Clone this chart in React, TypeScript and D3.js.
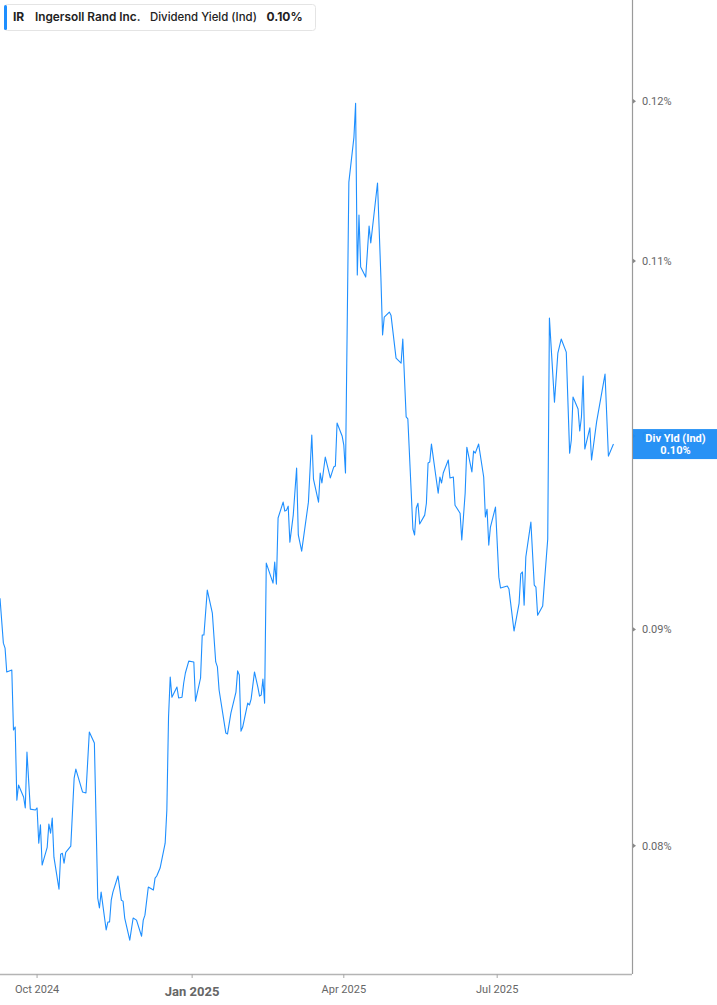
import React, { useEffect, useRef } from "react";
import * as d3 from "d3";

// trading days (Sep 2024 .. Sep 2025)
const dates = [
  "2024-09-09","2024-09-11","2024-09-12","2024-09-13","2024-09-16","2024-09-17","2024-09-18","2024-09-19","2024-09-20","2024-09-23","2024-09-24","2024-09-25","2024-09-27","2024-09-30",
  "2024-10-01","2024-10-02","2024-10-03","2024-10-04","2024-10-07","2024-10-08","2024-10-09","2024-10-10","2024-10-11","2024-10-14","2024-10-15","2024-10-16","2024-10-17","2024-10-18","2024-10-21","2024-10-23","2024-10-24","2024-10-28","2024-10-30",
  "2024-11-01","2024-11-04","2024-11-06","2024-11-07","2024-11-08","2024-11-11","2024-11-12","2024-11-13","2024-11-14","2024-11-15","2024-11-18","2024-11-20","2024-11-21","2024-11-22","2024-11-25","2024-11-27","2024-11-29",
  "2024-12-02","2024-12-03","2024-12-04","2024-12-06","2024-12-09","2024-12-10","2024-12-11","2024-12-13","2024-12-16","2024-12-17","2024-12-18","2024-12-19","2024-12-20","2024-12-23","2024-12-24","2024-12-26","2024-12-27","2024-12-28","2024-12-30",
  "2025-01-02","2025-01-03","2025-01-06","2025-01-07","2025-01-08","2025-01-10","2025-01-13","2025-01-15","2025-01-16","2025-01-17","2025-01-21","2025-01-22","2025-01-24","2025-01-27","2025-01-28","2025-01-29","2025-01-30","2025-01-31",
  "2025-02-03","2025-02-04","2025-02-05","2025-02-07","2025-02-09","2025-02-10","2025-02-11","2025-02-12","2025-02-13","2025-02-14","2025-02-18","2025-02-19","2025-02-20","2025-02-21","2025-02-24","2025-02-25","2025-02-26","2025-02-27","2025-02-28",
  "2025-03-02","2025-03-04","2025-03-05","2025-03-07","2025-03-11","2025-03-13","2025-03-14","2025-03-17","2025-03-18","2025-03-19","2025-03-21","2025-03-24","2025-03-26","2025-03-27","2025-03-28","2025-03-31",
  "2025-04-01","2025-04-02","2025-04-04","2025-04-07","2025-04-08","2025-04-09","2025-04-10","2025-04-11","2025-04-14","2025-04-16","2025-04-17","2025-04-21","2025-04-23","2025-04-24","2025-04-25","2025-04-28","2025-04-29",
  "2025-05-02","2025-05-05","2025-05-06","2025-05-08","2025-05-09","2025-05-12","2025-05-13","2025-05-14","2025-05-15","2025-05-16","2025-05-19","2025-05-20","2025-05-21","2025-05-22","2025-05-23","2025-05-27","2025-05-28","2025-05-29","2025-05-30",
  "2025-06-02","2025-06-03","2025-06-05","2025-06-06","2025-06-09","2025-06-10","2025-06-12","2025-06-13","2025-06-16","2025-06-17","2025-06-18","2025-06-20","2025-06-23","2025-06-24","2025-06-25","2025-06-26","2025-06-27","2025-06-30",
  "2025-07-02","2025-07-03","2025-07-07","2025-07-08","2025-07-11","2025-07-14","2025-07-15","2025-07-16","2025-07-17","2025-07-18","2025-07-21","2025-07-23","2025-07-24","2025-07-25","2025-07-28","2025-07-29","2025-07-31",
  "2025-08-01","2025-08-04","2025-08-06","2025-08-08","2025-08-11","2025-08-13","2025-08-14","2025-08-15","2025-08-18","2025-08-19","2025-08-20","2025-08-21","2025-08-22","2025-08-25","2025-08-26","2025-08-29",
  "2025-09-03","2025-09-05","2025-09-08",
];

// dividend yield in percent, same order as dates
const yields = [
  0.09154,0.08933,0.08909,0.08794,0.08803,0.08520,0.08534,0.08201,0.08269,0.08215,0.08166,0.08418,0.08161,0.08157,
  0.08166,0.08011,0.08091,0.07916,0.07993,0.08095,0.08055,0.08121,0.07950,0.07813,0.07963,0.07967,0.07924,0.07971,0.07998,0.08300,0.08341,0.08237,0.08233,
  0.08511,0.08460,0.07775,0.07733,0.07800,0.07641,0.07674,0.07674,0.07766,0.07800,0.07869,0.07766,0.07762,0.07691,0.07599,0.07691,0.07682,
  0.07615,0.07682,0.07703,0.07822,0.07809,0.07860,0.07869,0.07903,0.08011,0.08157,0.08581,0.08770,0.08674,0.08722,0.08670,0.08674,0.08741,0.08789,0.08846,
  0.08842,0.08655,0.08765,0.08973,0.08973,0.09195,0.09080,0.08842,0.08818,0.08708,0.08506,0.08502,0.08599,0.08698,0.08799,0.08779,0.08515,0.08534,
  0.08646,0.08637,0.08665,0.08794,0.08722,0.08679,0.08684,0.08760,0.08646,0.09331,0.09230,0.09336,0.09225,0.09563,0.09646,0.09599,0.09604,0.09625,0.09438,
  0.09578,0.09827,0.09475,0.09392,0.09646,0.10005,0.09768,0.09646,0.09800,0.09747,0.09886,0.09774,0.09832,0.09838,0.10071,0.10000,
  0.09950,0.09800,0.11483,0.11766,0.11987,0.10916,0.11279,0.10964,0.10904,0.11211,0.11108,0.11477,0.10904,0.10565,0.10669,0.10698,0.10680,
  0.10433,0.10405,0.10542,0.10104,0.10093,0.09506,0.09475,0.09615,0.09640,0.09532,0.09578,0.09640,0.09854,0.09859,0.09956,0.09693,0.09779,0.09747,0.09800,
  0.09870,0.09774,0.09779,0.09630,0.09588,0.09449,0.09693,0.09939,0.09806,0.09918,0.09907,0.09956,0.09779,0.09568,0.09609,0.09423,0.09516,0.09620,
  0.09260,0.09205,0.09215,0.09200,0.08992,0.09129,0.09276,0.09286,0.09120,0.09362,0.09542,0.09220,0.09210,0.09070,0.09115,0.09230,0.09454,
  0.10663,0.10186,0.10461,0.10542,0.10467,0.09907,0.09978,0.10214,0.10148,0.10027,0.10104,0.10332,0.09929,0.10044,0.09870,0.10077,
  0.10343,0.09891,0.09956,
];

const yTicks = [0.08, 0.09, 0.1, 0.11, 0.12];
const xTickDates = ["2024-10-01", "2025-01-01", "2025-04-01", "2025-07-01"];
const xTickLabels = ["Oct 2024", "Jan 2025", "Apr 2025", "Jul 2025"];
const xDomain = ["2024-09-09", "2025-09-19"];
const yDomain = [0.0746, 0.1268];

const ticker = "IR";
const company = "Ingersoll Rand Inc.";
const metric = "Dividend Yield (Ind)";
const badgeTitle = "Div Yld (Ind)";

const width = 717;
const height = 1005;
const plotRight = 632;
const plotBottom = 974;
const blue = "#1e8fff";

const parse = d3.timeParse("%Y-%m-%d");

export default function App() {
  const ref = useRef<SVGSVGElement | null>(null);

  useEffect(() => {
    if (!ref.current) return;
    const svg = d3.select(ref.current);
    svg.selectAll("*").remove();

    const data = dates.map((d, i) => ({ date: parse(d) as Date, value: yields[i] }));
    const last = data[data.length - 1];
    const fmt = (v: number) => `${v.toFixed(2)}%`;

    const x = d3
      .scaleTime()
      .domain(xDomain.map((d) => parse(d) as Date))
      .range([0, plotRight]);
    const y = d3.scaleLog().domain(yDomain).range([plotBottom, 0]);

    svg
      .append("defs")
      .append("clipPath")
      .attr("id", "plot-clip")
      .append("rect")
      .attr("x", 0)
      .attr("y", 0)
      .attr("width", plotRight)
      .attr("height", plotBottom);

    // line
    const line = d3
      .line<{ date: Date; value: number }>()
      .x((d) => x(d.date))
      .y((d) => y(d.value));
    svg
      .append("path")
      .datum(data)
      .attr("clip-path", "url(#plot-clip)")
      .attr("d", line)
      .attr("fill", "none")
      .attr("stroke", blue)
      .attr("stroke-width", 1.1)
      .attr("stroke-linejoin", "round");

    // bottom axis
    svg
      .append("line")
      .attr("x1", 0)
      .attr("x2", plotRight)
      .attr("y1", plotBottom + 0.5)
      .attr("y2", plotBottom + 0.5)
      .attr("stroke", "#b4b4b4")
      .attr("stroke-width", 1.5);

    const isYear = (i: number) => xTickLabels[i].startsWith("Jan");
    const xt = svg
      .append("g")
      .selectAll("g")
      .data(xTickDates)
      .enter()
      .append("g")
      .attr("transform", (d) => `translate(${x(parse(d) as Date)},0)`);
    xt.append("line")
      .attr("y1", plotBottom)
      .attr("y2", plotBottom + 4)
      .attr("stroke", "#a8a8a8");
    xt.append("text")
      .attr("text-anchor", "middle")
      .attr("y", (_, i) => (isYear(i) ? 995.5 : 993))
      .attr("font-family", "Roboto, sans-serif")
      .attr("font-size", (_, i) => (isYear(i) ? 13 : 11))
      .attr("font-weight", (_, i) => (isYear(i) ? 700 : 400))
      .attr("fill", "#666")
      .text((_, i) => xTickLabels[i]);

    // right axis
    svg
      .append("line")
      .attr("x1", plotRight + 0.5)
      .attr("x2", plotRight + 0.5)
      .attr("y1", 0)
      .attr("y2", plotBottom)
      .attr("stroke", "#9a9a9a")
      .attr("stroke-width", 1.2);

    const yt = svg
      .append("g")
      .selectAll("g")
      .data(yTicks)
      .enter()
      .append("g")
      .attr("transform", (d) => `translate(${plotRight},${y(d)})`);
    yt.append("path").attr("d", "M1,-2.2L4,0L1,2.2Z").attr("fill", "#888");
    yt.append("text")
      .attr("x", 10)
      .attr("dy", "0.35em")
      .attr("font-family", "Roboto, sans-serif")
      .attr("font-size", 11)
      .attr("fill", "#666")
      .text((d) => fmt(d));

    // last value badge (covers the 0.10% tick label, as in the original)
    const by = y(last.value);
    const badge = svg.append("g").attr("transform", `translate(${plotRight + 1},${by})`);
    badge
      .append("rect")
      .attr("x", 0)
      .attr("y", -15)
      .attr("width", width - plotRight - 1)
      .attr("height", 30)
      .attr("fill", "#1f8ef5")
      .attr("opacity", 0.96);
    badge
      .append("text")
      .attr("x", (width - plotRight) / 2)
      .attr("y", -2.5)
      .attr("text-anchor", "middle")
      .attr("font-family", "Roboto, sans-serif")
      .attr("font-size", 11)
      .attr("font-weight", 700)
      .attr("fill", "#fff")
      .text(badgeTitle);
    badge
      .append("text")
      .attr("x", (width - plotRight) / 2)
      .attr("y", 9.5)
      .attr("text-anchor", "middle")
      .attr("font-family", "Roboto, sans-serif")
      .attr("font-size", 11)
      .attr("font-weight", 700)
      .attr("fill", "#fff")
      .text(fmt(last.value));

    // legend
    const lg = svg.append("g");
    lg.append("rect")
      .attr("x", 4.5)
      .attr("y", 4.5)
      .attr("width", 311)
      .attr("height", 26)
      .attr("rx", 3)
      .attr("fill", "#fff")
      .attr("stroke", "#e4e4e4");
    lg.append("rect")
      .attr("x", 4)
      .attr("y", 5)
      .attr("width", 3)
      .attr("height", 25)
      .attr("rx", 1.5)
      .attr("fill", blue);
    const parts = [
      { t: ticker, x: 13, w: 700, s: 12 },
      { t: company, x: 35, w: 600, s: 11.8 },
      { t: metric, x: 150, w: 500, s: 11.4 },
      { t: fmt(last.value), x: 266.5, w: 700, s: 12 },
    ];
    lg.selectAll("text.lg")
      .data(parts)
      .enter()
      .append("text")
      .attr("class", "lg")
      .attr("x", (d) => d.x)
      .attr("y", 21)
      .attr("font-family", "Inter, sans-serif")
      .attr("font-size", (d) => d.s)
      .attr("font-weight", (d) => d.w)
      .attr("fill", "#222")
      .text((d) => d.t);
  }, []);

  return (
    <div style={{ position: "absolute", left: 0, top: 0 }}>
      <svg ref={ref} width={width} height={height} role="img" aria-label="Ingersoll Rand dividend yield chart" />
    </div>
  );
}
